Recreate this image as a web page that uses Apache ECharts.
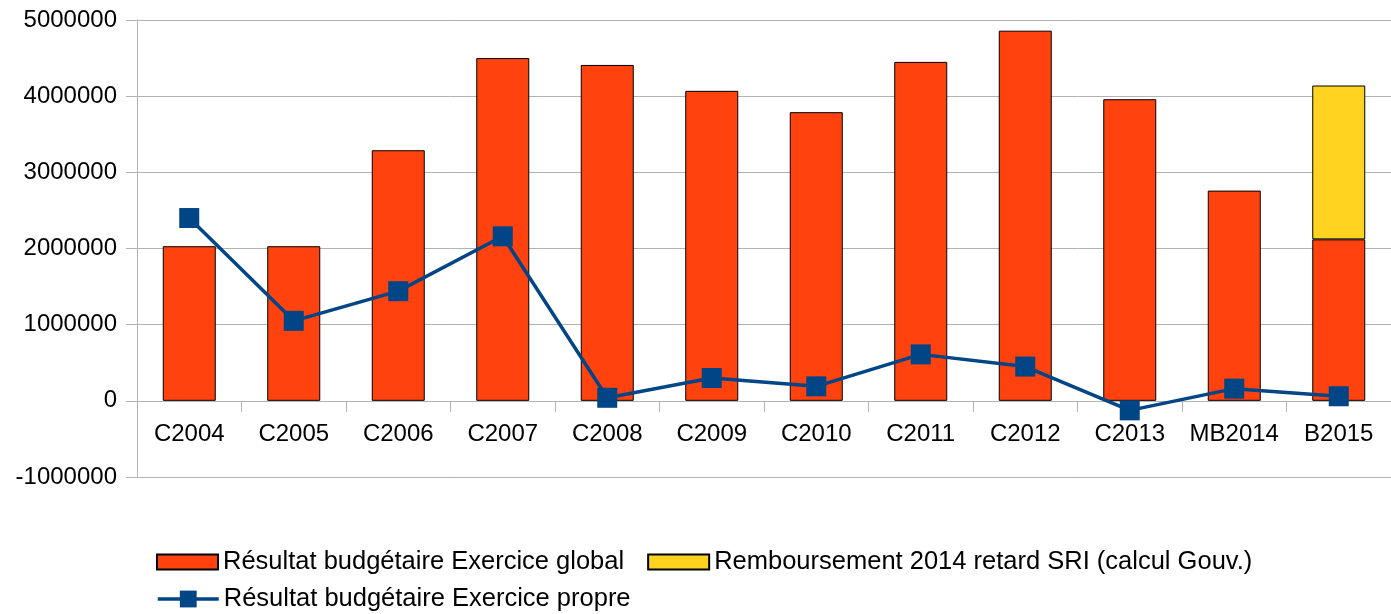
<!DOCTYPE html>
<html>
<head>
<meta charset="utf-8">
<script src="https://cdn.jsdelivr.net/npm/echarts@6/dist/echarts.min.js"></script>
<style>
  html, body { margin: 0; padding: 0; background: #fff; }
  #chart { width: 1391px; height: 614px; }
</style>
</head>
<body>
<div id="chart"></div>
<script>
// catégories et valeurs
const categories = ['C2004', 'C2005', 'C2006', 'C2007', 'C2008', 'C2009', 'C2010', 'C2011', 'C2012', 'C2013', 'MB2014', 'B2015'];
const resultatGlobal = [2030000, 2030000, 3290000, 4500000, 4410000, 4070000, 3790000, 4450000, 4860000, 3960000, 2760000, 2120000];
const remboursement = [null, null, null, null, null, null, null, null, null, null, null, 2020000];
const resultatPropre = [2400000, 1050000, 1440000, 2160000, 40000, 300000, 190000, 610000, 450000, -125000, 160000, 60000];
const yTicks = { min: -1000000, max: 5000000, interval: 1000000 };

const names = [
  'Résultat budgétaire Exercice global',
  'Remboursement 2014 retard SRI (calcul Gouv.)',
  'Résultat budgétaire Exercice propre',
];

const gridColor = '#b3b3b3';
const blue = '#004586';
const font = 'Liberation Sans, Arial, sans-serif';

const chart = echarts.init(document.getElementById('chart'));

const legendBase = {
  orient: 'horizontal',
  left: 151,
  itemWidth: 61,
  itemGap: 23,
  textStyle: { fontFamily: font, fontSize: 25.5, color: '#000' },
};

chart.setOption({
  animation: false,
  backgroundColor: '#fff',
  grid: { left: 137, top: 20, bottom: 137, width: 1265, containLabel: false },
  legend: [
    Object.assign({}, legendBase, {
      top: 544, itemHeight: 15, icon: 'rect',
      data: [names[0], names[1]],
    }),
    Object.assign({}, legendBase, {
      top: 581, itemHeight: 21,
      lineStyle: { width: 3.5 },
      data: [names[2]],
    }),
  ],
  xAxis: {
    type: 'category',
    data: categories,
    axisLine: { onZero: true, lineStyle: { color: gridColor, width: 1 } },
    axisTick: { show: true, length: 11, lineStyle: { color: gridColor } },
    // les libellés restent au niveau de la ligne zéro, comme dans l'original
    axisLabel: { fontFamily: font, fontSize: 24, color: '#000', margin: -55, interval: 0 },
    splitLine: { show: false },
  },
  yAxis: {
    type: 'value',
    min: yTicks.min,
    max: yTicks.max,
    interval: yTicks.interval,
    axisLine: { show: true, lineStyle: { color: gridColor, width: 1 } },
    axisTick: { show: true, length: 11, lineStyle: { color: gridColor } },
    axisLabel: {
      fontFamily: font, fontSize: 24, color: '#000', margin: 20,
      formatter: (v) => String(v),
    },
    splitLine: { show: true, lineStyle: { color: gridColor, width: 1 } },
  },
  series: [
    {
      name: names[0],
      type: 'bar',
      stack: 'total',
      data: resultatGlobal,
      barWidth: 53,
      itemStyle: { color: '#ff420e', borderColor: '#000', borderWidth: 1 },
      z: 2,
    },
    {
      name: names[1],
      type: 'bar',
      stack: 'total',
      data: remboursement,
      barWidth: 53,
      itemStyle: { color: '#ffd320', borderColor: '#000', borderWidth: 1 },
      z: 2,
    },
    {
      name: names[2],
      type: 'line',
      data: resultatPropre,
      symbol: 'rect',
      symbolSize: 20,
      lineStyle: { color: blue, width: 3.5 },
      itemStyle: { color: blue },
      z: 5,
    },
  ],
});
</script>
</body>
</html>
